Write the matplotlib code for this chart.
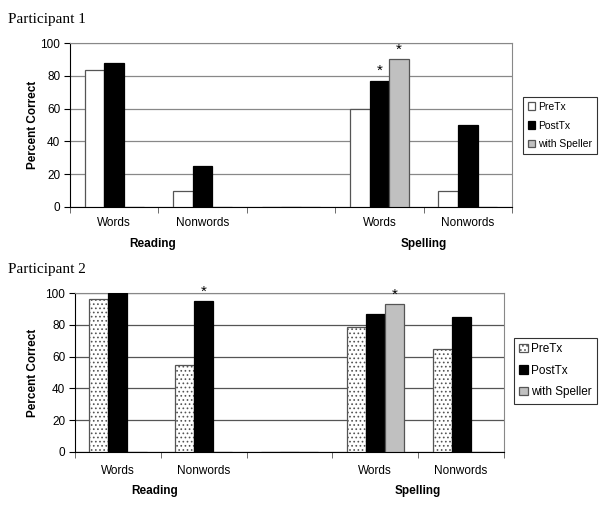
import numpy as np
import matplotlib
matplotlib.use("Agg")
import matplotlib.pyplot as plt
from matplotlib.patches import Patch

categories = ["Words", "Nonwords", "", "Words", "Nonwords"]
groups = ["Reading", "Spelling"]
series = ["PreTx", "PostTx", "with Speller"]

p1_pre = [83.5, 10, np.nan, 60, 10]
p1_post = [88, 25, np.nan, 77, 50]
p1_speller = [np.nan, np.nan, np.nan, 90, np.nan]
p1_stars = [(3, 1), (3, 2)]  # (category index, series index)

p2_pre = [96, 55, np.nan, 78.5, 65]
p2_post = [100, 95, np.nan, 87, 85]
p2_speller = [np.nan, np.nan, np.nan, 93, np.nan]
p2_stars = [(1, 1), (3, 2)]

yticks = [0, 20, 40, 60, 80, 100]

plt.rcParams['font.family'] = ['Liberation Sans', 'DejaVu Sans']
plt.rcParams['hatch.linewidth'] = 0.7
fig = plt.figure(figsize=(6, 5.08), dpi=100)

W = 1 / 4.5
x = np.arange(len(categories))


def panel(rect, pre, post, spk, stars, title, title_y, pre_hatch, grid_col,
          legend_rect, legfs, legsp, xpad, grp_y, ylab_x):
    ax = fig.add_axes(rect)
    vals = [pre, post, spk]
    colors = ["white", "black", "#c0c0c0"]
    edges = ["#555555", "black", "#555555"]
    hatches = [pre_hatch, None, None]
    handles = []
    for i, (v, c, e, h) in enumerate(zip(vals, colors, edges, hatches)):
        v = np.array(v, dtype=float)
        ax.bar(x + (i - 1) * W, np.nan_to_num(v, nan=0), W, color=c,
               edgecolor=e, linewidth=0.9, hatch=h, zorder=3)
        handles.append(Patch(facecolor=c, edgecolor=e, hatch=h, linewidth=0.9, label=series[i]))
    for ci, si in stars:
        v = vals[si][ci]
        ax.text(x[ci] + (si - 1) * W, v + 1.5, "*", ha="center", va="bottom",
                fontsize=11, zorder=4)
    ax.set_xlim(-0.5, 4.5)
    ax.set_ylim(0, 100)
    ax.set_yticks(yticks)
    ax.set_yticklabels([str(t) for t in yticks], fontsize=8.5)
    ax.yaxis.grid(True, color=grid_col, linewidth=0.9, zorder=0)
    ax.set_xticks(x)
    ax.set_xticklabels(categories, fontsize=8.5)
    ax.tick_params(axis="x", which="major", length=0, pad=xpad)
    ax.set_xticks(np.arange(-0.5, 5, 1), minor=True)
    ax.tick_params(axis="x", which="minor", length=4, color="#555555", direction="out")
    ax.tick_params(axis="y", length=4, direction="out", pad=3)
    for s in ["top", "right"]:
        ax.spines[s].set_color("#888888")
    ax.spines["left"].set_color("black")
    ax.spines["bottom"].set_color("black")
    ax.set_ylabel("Percent Correct", fontsize=8.5, fontweight="bold")
    ax.yaxis.set_label_coords(ylab_x, 0.5)
    ax.text(0.43, grp_y, groups[0], transform=ax.get_xaxis_transform(),
            ha="center", va="center", fontsize=8.5, fontweight="bold")
    ax.text(3.5, grp_y, groups[1], transform=ax.get_xaxis_transform(),
            ha="center", va="center", fontsize=8.5, fontweight="bold")
    fig.text(8 / 600, title_y, title, fontsize=11, family=["Liberation Serif"],
             ha="left", va="center")
    leg = fig.legend(handles=handles, loc="upper left",
                     bbox_to_anchor=legend_rect, fontsize=legfs,
                     frameon=True, fancybox=False, edgecolor="black",
                     handlelength=0.7, handleheight=0.7, handletextpad=0.3,
                     borderpad=0.45, labelspacing=legsp, borderaxespad=0)
    leg.get_frame().set_linewidth(0.8)
    return ax


panel([70 / 600, 1 - 207 / 508, 442 / 600, 164 / 508], p1_pre, p1_post, p1_speller,
      p1_stars, "Participant 1", 1 - 19 / 508, None, "#888888",
      (523 / 600, 1 - 97 / 508), 7.5, 0.85, 7.5, -0.225, -0.070)
panel([75 / 600, 1 - 452 / 508, 429 / 600, 159 / 508], p2_pre, p2_post, p2_speller,
      p2_stars, "Participant 2", 1 - 269 / 508, "....", "#555555",
      (514 / 600, 1 - 338 / 508), 8.5, 0.8, 9.7, -0.245, -0.084)

fig.savefig("out.png", dpi=100)
